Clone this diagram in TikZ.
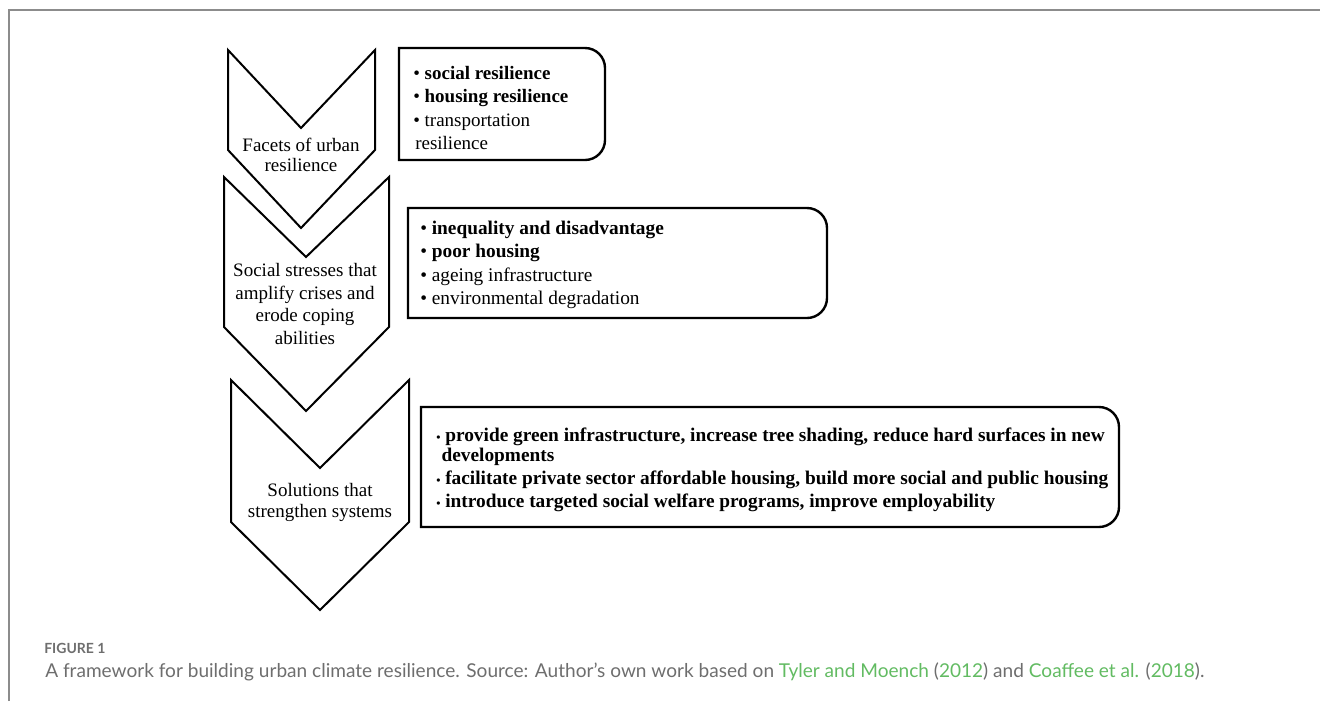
\documentclass[tikz,border=0pt]{standalone}
\usepackage{fontspec}
\setmainfont{Liberation Serif}
\newfontfamily\capfont{Lato}
\definecolor{framegray}{HTML}{8C8C8C}
\definecolor{capgray}{HTML}{6E6E6E}
\definecolor{linkgreen}{HTML}{62BB62}
\newcommand{\smallbul}{{\fontsize{9}{9}\selectfont •}}
\newcommand{\link}[1]{\textcolor{linkgreen}{#1}}
\tikzset{
  chevron/.style={draw=black, line width=1.5pt, line join=miter},
  listbox/.style={draw=black, line width=1.8pt},
  steplabel/.style={align=center, inner sep=0pt},
  listtext/.style={align=left, inner sep=0pt, anchor=west},
}

\begin{document}
\begin{tikzpicture}[x=0.75pt, y=-0.75pt]
  \useasboundingbox (0,0) rectangle (1320,701);
  \draw[framegray, line width=1.5pt] (9,701) -- (9,10) -- (1320,10);

  % chevrons
  \draw[chevron] (228,50) -- (301,128) -- (375,50) -- (375,150) -- (301,228) -- (228,150) -- cycle;
  \draw[chevron] (224,177) -- (306,257) -- (389,177) -- (389,327) -- (306,411) -- (224,327) -- cycle;
  \draw[chevron] (231,380) -- (320,468) -- (409,380) -- (409,522) -- (320,610) -- (231,522) -- cycle;

  \node[steplabel, font=\fontsize{14.25}{15}\selectfont] (facets) at (301,155) {Facets of urban\\resilience};
  \node[steplabel, font=\fontsize{14.25}{17}\selectfont] (stresses) at (305,304) {Social stresses that\\amplify crises and\\erode coping\\abilities};
  \node[steplabel, font=\fontsize{14.25}{15.75}\selectfont] (solutions) at (320,502) {Solutions that\\strengthen systems};

  % list boxes, rounded on the right only
  \draw[listbox] (399,160) -- (399,48) [rounded corners=15pt] -- (605,48) -- (605,160) [sharp corners] -- cycle;
  \draw[listbox] (408,318) -- (408,208) [rounded corners=15pt] -- (827,208) -- (827,318) [sharp corners] -- cycle;
  \draw[listbox] (421,527) -- (421,407) [rounded corners=15pt] -- (1119,407) -- (1119,527) [sharp corners] -- cycle;

  \node[listtext, font=\fontsize{14.25}{17.5}\selectfont] (facetlist) at (413,108)
    {• \textbf{social resilience}\\• \textbf{housing resilience}\\• transportation\\\hspace*{1.5pt}resilience};
  \node[listtext, font=\fontsize{14.5}{17.5}\selectfont] (stresslist) at (420,265)
    {• \textbf{inequality and disadvantage}\\• \textbf{poor housing}\\• ageing infrastructure\\• environmental degradation};
  \node[listtext, font=\fontsize{14.5}{15}\selectfont\bfseries] (solutionlist) at (436,469.5)
    {\smallbul\ provide green infrastructure, increase tree shading, reduce hard surfaces in new\\
     \hspace*{4pt}developments\\[2.25pt]
     \smallbul\ facilitate private sector affordable housing, build more social and public housing\\[2.25pt]
     \smallbul\ introduce targeted social welfare programs, improve employability};

  % caption
  \node[anchor=base west, inner sep=0pt, text=capgray, font=\capfont\bfseries\fontsize{10.5}{12}\selectfont] (figlabel) at (44,653) {FIGURE 1};
  \node[anchor=base west, inner sep=0pt, text=capgray, font=\capfont\fontsize{14.3}{16}\selectfont] (figcaption) at (45,677)
    {A framework for building urban climate resilience. Source: Author’s own work based on \link{Tyler and Moench} (\link{2012}) and \link{Coaffee et al.} (\link{2018}).};
\end{tikzpicture}
\end{document}
